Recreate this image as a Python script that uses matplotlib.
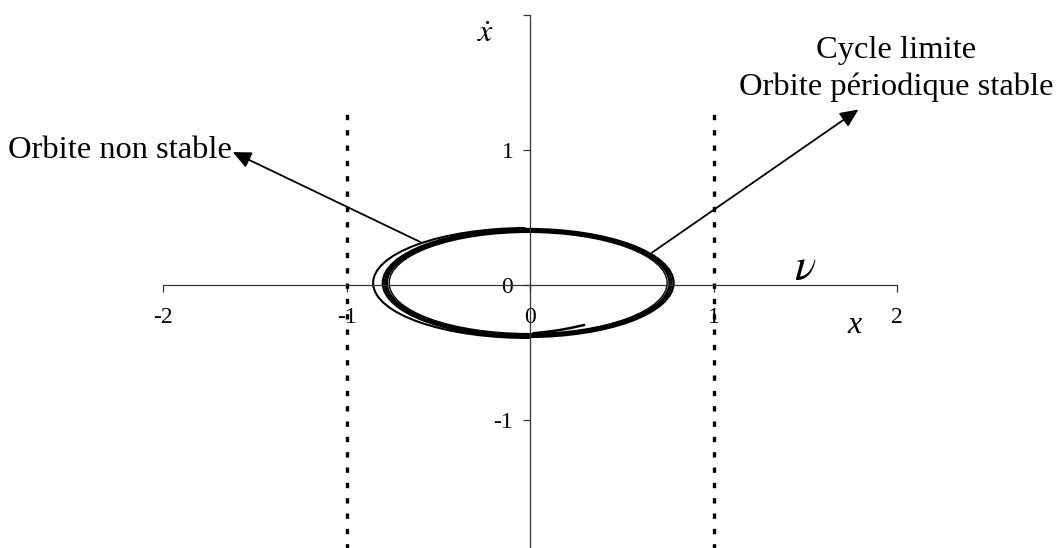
import numpy as np
import matplotlib.pyplot as plt
from matplotlib.patches import Ellipse, Arc

plt.rcParams['font.family'] = ['Liberation Serif', 'DejaVu Serif']
plt.rcParams['mathtext.fontset'] = 'stix'

# axis ticks
xticks = [-2, -1, 0, 1, 2]
xlabels = ['-2', '-1', '0', '1', '2']
yticks = [-2, -1, 0, 1, 2]
ylabels = ['', '-1', '0', '1', '']

# limit cycle (converged band): centre x, centre y, width, height, line width
cycle_cx = [-0.01, -0.01, -0.01, -0.01]
cycle_cy = [0.015, 0.015, 0.015, 0.015]
cycle_w = [1.515, 1.54, 1.562, 1.585]
cycle_h = [0.75, 0.765, 0.782, 0.80]
cycle_lw = [1.0, 1.6, 1.6, 1.6]

# outer (unstable) loop, drawn as an arc on the left side
outer_cx, outer_cy = -0.01, 0.015
outer_w, outer_h = 1.69, 0.815
outer_t1, outer_t2 = 92, 272

# short start of the inner trajectory
tail_x = [0.295, 0.230, 0.164, 0.090, 0.018]
tail_y = [-0.296, -0.316, -0.333, -0.347, -0.358]

# arrows: start on the orbit, tip near the caption
arrow_left = ((-0.60, 0.32), (-1.62, 0.985))
arrow_right = ((0.665, 0.24), (1.79, 1.30))

fig = plt.figure(figsize=(10.6, 5.48), dpi=100)
ax = fig.add_axes([163/1060, -7/548, 734/1060, 540/548])
ax.set_xlim(-2, 2)
ax.set_ylim(-2, 2)

for s in ['top', 'right']:
    ax.spines[s].set_visible(False)
ax.spines['left'].set_position(('data', 0))
ax.spines['bottom'].set_position(('data', 0))
for s in ['left', 'bottom']:
    ax.spines[s].set_color('#333333')
    ax.spines[s].set_linewidth(0.9)

ax.set_xticks(xticks)
ax.set_xticklabels(xlabels)
ax.set_yticks(yticks)
ax.set_yticklabels(ylabels)
ax.tick_params(axis='x', direction='out', length=5, width=0.9, color='#333333',
               labelsize=17, pad=11)
ax.tick_params(axis='y', direction='out', length=5, width=0.9, color='#333333',
               labelsize=17, pad=7)

# vertical dotted limits at x = -1 and x = 1
for xv in [-1, 1]:
    ax.plot([xv, xv], [-2.1, 1.27], color='black', lw=2.4,
            linestyle=(0, (1.6, 3.0)), clip_on=False)

# limit cycle
for cx, cy, w, h, lw in zip(cycle_cx, cycle_cy, cycle_w, cycle_h, cycle_lw):
    ax.add_patch(Ellipse((cx, cy), w, h, fill=False, edgecolor='black', lw=lw))

ax.add_patch(Arc((outer_cx, outer_cy), outer_w, outer_h, theta1=outer_t1,
                 theta2=outer_t2, edgecolor='black', lw=1.5))
ax.plot(tail_x, tail_y, color='black', lw=1.8, solid_capstyle='round')

for start, tip in [arrow_left, arrow_right]:
    ax.annotate('', xy=tip, xytext=start,
                arrowprops=dict(arrowstyle='-|>,head_length=0.55,head_width=0.25',
                                mutation_scale=20, color='black', lw=1.3,
                                shrinkA=0, shrinkB=0))

ax.text(-2.845, 0.94, 'Orbite non stable', fontsize=23.4, ha='left', va='baseline')
ax.text(1.995, 1.68, 'Cycle limite', fontsize=23.4, ha='center', va='baseline')
ax.text(1.995, 1.41, 'Orbite périodique stable', fontsize=23.4, ha='center',
        va='baseline')

ax.text(-0.24, 1.80, r'$\dot{x}$', fontsize=23, ha='center', va='baseline')
ax.text(1.50, 0.04, r'$\nu$', fontsize=32, ha='center', va='baseline')
ax.text(1.77, -0.356, 'x', fontsize=23, style='italic', ha='center', va='baseline')

fig.savefig('out.png', dpi=100)
